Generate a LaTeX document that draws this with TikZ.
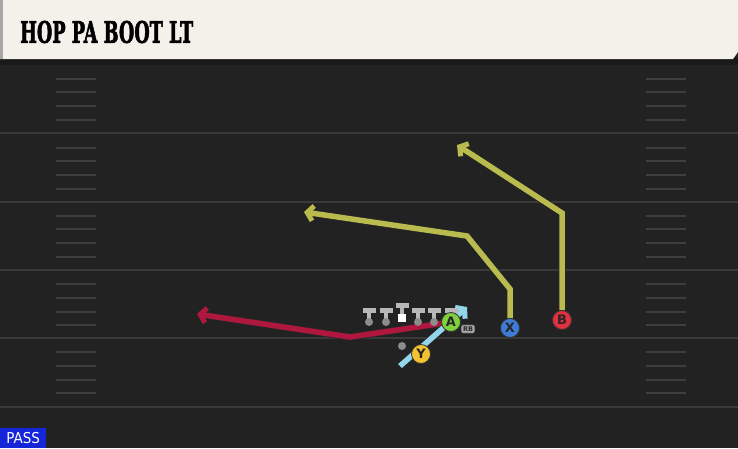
\documentclass[tikz,border=0pt]{standalone}
\usepackage{fontspec}
\setmainfont{DejaVu Sans}
\newfontfamily\titlefont{DejaVu Serif}[BoldFeatures={FakeBold=2.5}]
\newfontfamily\tagfont{DejaVu Sans Condensed}
\usetikzlibrary{arrows.meta}

\definecolor{field}{HTML}{222222}
\definecolor{yardline}{HTML}{3A3A3A}
\definecolor{hashmark}{HTML}{3E3E3E}
\definecolor{header}{HTML}{F4F1EA}
\definecolor{routeyel}{HTML}{B9BB4E}
\definecolor{routered}{HTML}{B0173F}
\definecolor{routeblue}{HTML}{93D6EC}
\definecolor{plgreen}{HTML}{7ED13C}
\definecolor{plblue}{HTML}{3D7DD8}
\definecolor{plred}{HTML}{E2303F}
\definecolor{plyellow}{HTML}{F3C22E}
\definecolor{passblue}{HTML}{1426D8}

\tikzset{
  route/.style={line width=5.5pt, line join=miter,
    preaction={draw=black!85, line width=7pt},
    -{Straight Barb[length=6pt, width=15pt, line width=5pt]}},
  player/.style={circle, draw=black!80, line width=0.8pt, minimum size=19pt,
    inner sep=0pt, font=\bfseries\fontsize{13}{13}\selectfont, text=black!85},
  lineman/.style={circle, fill=black!45, minimum size=8pt, inner sep=0pt},
  hash/.style={hashmark, line width=1.6pt}
}

\begin{document}
\begin{tikzpicture}[x=1pt, y=-1pt]

\useasboundingbox (0, 0) rectangle (738, 448);
\fill[field] (0, 0) rectangle (738, 448);

% yard lines and hashes
\fill[black!90] (0, 58) rectangle (738, 65);
\foreach \y in {133, 202, 270, 338, 407} {
  \draw[yardline, line width=1.8pt] (0, \y) -- (738, \y);
}
\foreach \y in {79, 92, 106, 120, 148, 161, 175, 189, 216, 229, 243, 257,
                284, 298, 312, 325, 352, 366, 380, 393} {
  \draw[hash] (56, \y) -- (96, \y);
  \draw[hash] (646, \y) -- (686, \y);
}

% header
\fill[header] (0, 0) -- (738, 0) -- (738, 52) -- (733, 59) -- (0, 59) -- cycle;
\fill[black!35] (0, 0) rectangle (3, 59);
\node (title)[anchor=west, inner sep=0pt] at (20, 32)
  {\resizebox{173pt}{22pt}{\titlefont\bfseries HOP PA BOOT LT}};

% players
\node (A)[player, fill=plgreen] at (451, 322) {A};
\node (X)[player, fill=plblue] at (510, 328) {X};
\node (B)[player, fill=plred] at (562, 320) {B};

\coordinate (red1) at (350, 337);
\coordinate (red2) at (197, 314);
\coordinate (xa) at (510, 289);
\coordinate (xb) at (467, 236);
\coordinate (xc) at (304, 212);
\coordinate (ba) at (562, 213);
\coordinate (bb) at (457, 145);
\coordinate (ya) at (400, 366);
\coordinate (yb) at (467, 307);

% routes
\draw[route, routered] (A) -- (red1) -- (red2);
\draw[route, routeyel] (X.north) -- (xa) -- (xb) -- (xc);
\draw[route, routeyel] (B.north) -- (ba) -- (bb);
\draw[route, routeblue] (ya) -- (yb);

% line
\foreach \x/\n in {369/lt, 386/lg, 418/rg, 434/rt} {
  \fill[black!28] (\x-6.5, 308) rectangle (\x+6.5, 313);
  \fill[black!28] (\x-2.2, 311) rectangle (\x+2.2, 321);
  \node (\n)[lineman] at (\x, 322) {};
}
\fill[black!28] (395.5, 303) rectangle (408.5, 308);
\fill[black!28] (399.8, 306) rectangle (404.2, 315);
\node (c)[rectangle, fill=white, minimum size=8pt, inner sep=0pt] at (402, 318) {};
\fill[black!28] (444.5, 308) rectangle (457.5, 313);
\node (A)[player, fill=plgreen] at (451, 322) {A};
\node (X)[player, fill=plblue] at (510, 328) {X};
\node (B)[player, fill=plred] at (562, 320) {B};
\node (Y)[player, fill=plyellow] at (421, 354) {Y};
\node (qb)[circle, fill=black!45, minimum size=8pt, inner sep=0pt] at (402, 346) {};
\node (rb)[rounded corners=2pt, fill=black!35, draw=black!70, line width=0.4pt,
  inner sep=1.8pt, font=\bfseries\fontsize{6.5}{6.5}\selectfont, text=black!85]
  at (468, 329) {RB};

% pass tag
\node (pass)[fill=passblue, text=white, anchor=south west, inner sep=2pt,
  minimum width=46pt, minimum height=20pt, font=\tagfont\fontsize{15}{15}\selectfont]
  at (0, 448) {PASS};

\end{tikzpicture}
\end{document}
